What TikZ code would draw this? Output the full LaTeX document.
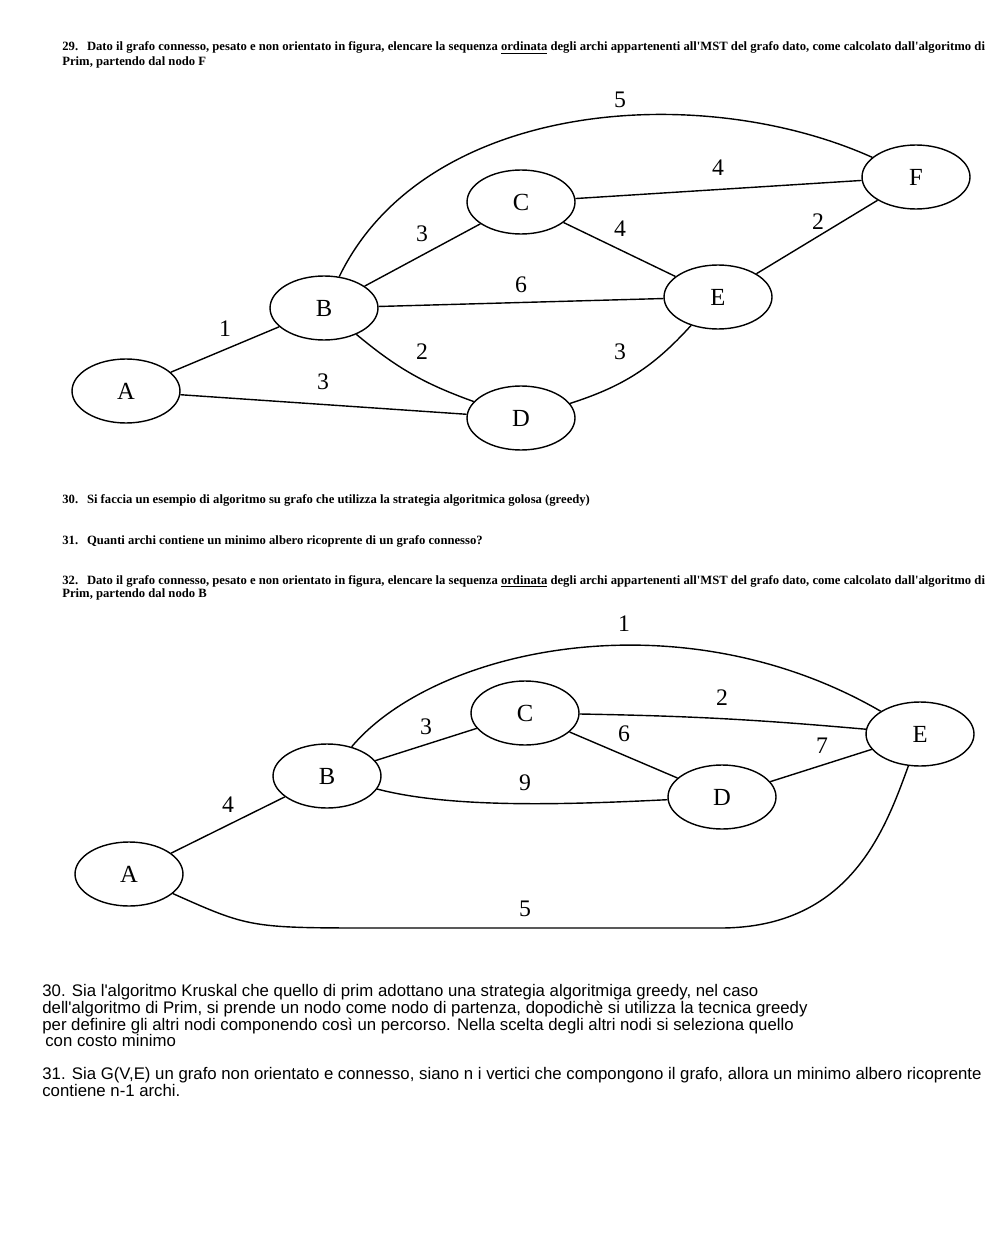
\documentclass[tikz,border=0pt]{standalone}
\usepackage{fontspec}
\setmainfont{Liberation Serif}
\newfontfamily\hdfont{Liberation Serif}[Ligatures=TeXOff]
\newfontfamily\ansfont{Liberation Sans}[Ligatures=TeXOff]
\usetikzlibrary{shapes.geometric}
\begin{document}
\begin{tikzpicture}[x=0.02cm,y=-0.02cm,
  vert/.style={draw,ellipse,line width=0.8pt,minimum width=2.16cm,minimum height=1.28cm,inner sep=0pt,font=\fontsize{14}{14}\selectfont},
  wlab/.style={inner sep=0pt,font=\fontsize{13.5}{13.5}\selectfont},
  edge/.style={line width=0.8pt},
  hdr/.style={anchor=base west,inner sep=0pt,font=\hdfont\bfseries\fontsize{7.2}{8.5}\selectfont},
  ans/.style={anchor=base west,inner sep=0pt,font=\ansfont\fontsize{9.55}{9.6}\selectfont}]
\useasboundingbox (0,0) rectangle (1000,1250);
\fill[white] (0,0) rectangle (1000,1250);

% ---- header 29
\node[hdr] (h29a) at (62,51) {29.\hspace{0.7em}Dato il grafo connesso, pesato e non orientato in figura, elencare la sequenza \underline{ordinata} degli archi appartenenti all'MST del grafo dato, come calcolato dall'algoritmo di};
\node[hdr] (h29b) at (62,66) {Prim, partendo dal nodo F};

% ---- graph 1
\node[vert] (A) at (126,391) {A};
\node[vert] (B) at (324,308) {B};
\node[vert] (C) at (521,202) {C};
\node[vert] (D) at (521,418) {D};
\node[vert] (E) at (718,297) {E};
\node[vert] (F) at (916,177) {F};

\draw[edge] (B) .. controls (425,100) and (700,80) .. (F);
\draw[edge] (C) -- (F);
\draw[edge] (B) -- (C);
\draw[edge] (C) -- (E);
\draw[edge] (E) -- (F);
\draw[edge] (B) -- (E);
\draw[edge] (A) -- (B);
\draw[edge] (B) to[bend right=10] (D);
\draw[edge] (D) to[bend right=15] (E);
\draw[edge] (A) -- (D);

\node[wlab] (w1) at (620,100) {5};
\node[wlab] (w2) at (718,168) {4};
\node[wlab] (w3) at (422,234) {3};
\node[wlab] (w4) at (620,229) {4};
\node[wlab] (w5) at (818,222) {2};
\node[wlab] (w6) at (521,285) {6};
\node[wlab] (w7) at (225,329) {1};
\node[wlab] (w8) at (422,352) {2};
\node[wlab] (w9) at (620,352) {3};
\node[wlab] (w10) at (323,382) {3};

% ---- headers 30,31,32
\node[hdr] (h30) at (62,503) {30.\hspace{0.7em}Si faccia un esempio di algoritmo su grafo che utilizza la strategia algoritmica golosa (greedy)};
\node[hdr] (h31) at (62,544) {31.\hspace{0.7em}Quanti archi contiene un minimo albero ricoprente di un grafo connesso?};
\node[hdr] (h32a) at (62,584) {32.\hspace{0.7em}Dato il grafo connesso, pesato e non orientato in figura, elencare la sequenza \underline{ordinata} degli archi appartenenti all'MST del grafo dato, come calcolato dall'algoritmo di};
\node[hdr] (h32b) at (62,597) {Prim, partendo dal nodo B};

% ---- graph 2
\node[vert] (A2) at (129,874) {A};
\node[vert] (B2) at (327,776) {B};
\node[vert] (C2) at (525,713) {C};
\node[vert] (D2) at (722,797) {D};
\node[vert] (E2) at (920,734) {E};

\draw[edge] (B2) .. controls (435,648) and (680,595) .. (E2);
\draw[edge] (C2) to[bend left=2] (E2);
\draw[edge] (C2) -- (D2);
\draw[edge] (D2) -- (E2);
\draw[edge] (B2) -- (C2);
\draw[edge] (B2) .. controls (450,808) and (560,805) .. (D2);
\draw[edge] (A2) -- (B2);
\draw[edge] (A2) .. controls (250,928) .. (380,928) -- (720,928) .. controls (850,928) and (885,830) .. (E2);

\node[wlab] (v1) at (624,624) {1};
\node[wlab] (v2) at (722,698) {2};
\node[wlab] (v3) at (426,727) {3};
\node[wlab] (v4) at (624,734) {6};
\node[wlab] (v5) at (822,746) {7};
\node[wlab] (v6) at (525,783) {9};
\node[wlab] (v7) at (228,805) {4};
\node[wlab] (v8) at (525,909) {5};

% ---- answers
\node[ans] (r1) at (42,996) {30. Sia l'algoritmo Kruskal che quello di prim adottano una strategia algoritmiga greedy, nel caso};
\node[ans] (r2) at (42,1013) {dell'algoritmo di Prim, si prende un nodo come nodo di partenza, dopodichè si utilizza la tecnica greedy};
\node[ans] (r3) at (42,1030) {per definire gli altri nodi componendo così un percorso. Nella scelta degli altri nodi si seleziona quello};
\node[ans] (r4) at (45,1046) {con costo minimo};
\node[ans] (r5) at (42,1079) {31. Sia G(V,E) un grafo non orientato e connesso, siano n i vertici che compongono il grafo, allora un minimo albero ricoprente};
\node[ans] (r6) at (42,1096) {contiene n-1 archi.};
\end{tikzpicture}
\end{document}
